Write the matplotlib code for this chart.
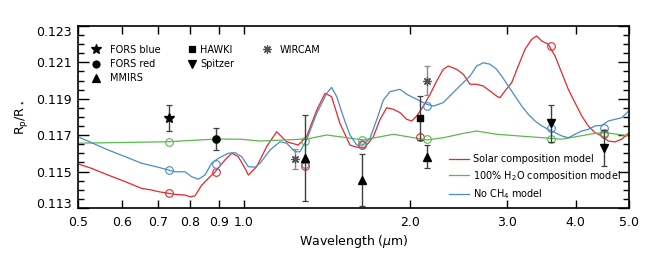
import matplotlib
matplotlib.use('Agg')
import matplotlib.pyplot as plt
from matplotlib.lines import Line2D
from matplotlib.ticker import FixedLocator, MultipleLocator, NullLocator

# Modelos (longitud de onda en micras, Rp/R*)
solar_wl = [0.500, 0.529, 0.567, 0.609, 0.652, 0.680, 0.699, 0.750, 0.782, 0.799,
            0.815, 0.839, 0.862, 0.887, 0.924, 0.951, 0.977, 1.005, 1.019, 1.055,
            1.100, 1.147, 1.196, 1.255, 1.300, 1.356, 1.404, 1.443, 1.494, 1.558,
            1.603, 1.659, 1.718, 1.767, 1.817, 1.868, 1.921, 1.975, 2.017, 2.060,
            2.118, 2.178, 2.239, 2.301, 2.350, 2.434, 2.502, 2.573, 2.646, 2.720,
            2.797, 2.876, 2.916, 2.978, 3.063, 3.148, 3.238, 3.330, 3.400, 3.472,
            3.569, 3.671, 3.774, 3.880, 3.990, 4.104, 4.218, 4.338, 4.462, 4.586,
            4.716, 4.849, 5.000]
solar_rp = [0.11542, 0.11518, 0.11481, 0.11445, 0.11408, 0.11399, 0.11390, 0.11375, 0.11371, 0.11362,
            0.11366, 0.11426, 0.11463, 0.11499, 0.11564, 0.11601, 0.11582, 0.11518, 0.11481, 0.11527,
            0.11637, 0.11719, 0.11664, 0.11646, 0.11692, 0.11838, 0.11930, 0.11912, 0.11765, 0.11646,
            0.11634, 0.11634, 0.11692, 0.11787, 0.11851, 0.11842, 0.11824, 0.11787, 0.11778, 0.11806,
            0.11860, 0.11925, 0.11998, 0.12062, 0.12080, 0.12062, 0.12035, 0.11980, 0.11980, 0.11970,
            0.11943, 0.11915, 0.11906, 0.11943, 0.11989, 0.12080, 0.12172, 0.12227, 0.12245, 0.12218,
            0.12200, 0.12135, 0.12044, 0.11952, 0.11879, 0.11806, 0.11751, 0.11714, 0.11696, 0.11668,
            0.11663, 0.11678, 0.11712]

h2o_wl = [0.500, 0.729, 0.890, 0.984, 1.070, 1.300, 1.414, 1.647, 1.868, 2.147,
          2.301, 2.502, 2.646, 2.876, 3.282, 3.774, 4.338, 4.523, 5.000]
h2o_rp = [0.11656, 0.11664, 0.11679, 0.11678, 0.11668, 0.11679, 0.11701, 0.11674, 0.11705, 0.11674,
          0.11686, 0.11710, 0.11723, 0.11705, 0.11692, 0.11678, 0.11710, 0.11714, 0.11696]

noch4_wl = [0.500, 0.529, 0.567, 0.609, 0.652, 0.699, 0.729, 0.750, 0.782, 0.804,
            0.827, 0.850, 0.874, 0.899, 0.937, 0.964, 0.991, 1.019, 1.048, 1.070,
            1.116, 1.163, 1.196, 1.238, 1.264, 1.300, 1.356, 1.414, 1.443, 1.474,
            1.515, 1.558, 1.603, 1.647, 1.694, 1.742, 1.791, 1.842, 1.894, 1.921,
            1.975, 2.060, 2.147, 2.208, 2.301, 2.399, 2.502, 2.573, 2.646, 2.720,
            2.797, 2.876, 2.937, 3.020, 3.105, 3.194, 3.282, 3.376, 3.472, 3.569,
            3.671, 3.774, 3.880, 3.990, 4.104, 4.218, 4.338, 4.462, 4.586, 4.716,
            4.849, 5.000]
noch4_rp = [0.11692, 0.11659, 0.11619, 0.11582, 0.11546, 0.11524, 0.11509, 0.11499, 0.11499, 0.11472,
            0.11458, 0.11481, 0.11546, 0.11573, 0.11601, 0.11604, 0.11582, 0.11527, 0.11524, 0.11546,
            0.11619, 0.11664, 0.11656, 0.11609, 0.11609, 0.11674, 0.11820, 0.11930, 0.11963, 0.11912,
            0.11802, 0.11701, 0.11646, 0.11646, 0.11683, 0.11784, 0.11893, 0.11939, 0.11948, 0.11952,
            0.11925, 0.11897, 0.11870, 0.11860, 0.11879, 0.11934, 0.11989, 0.12025, 0.12080, 0.12098,
            0.12090, 0.12062, 0.12025, 0.11970, 0.11915, 0.11860, 0.11815, 0.11778, 0.11751, 0.11732,
            0.11714, 0.11696, 0.11686, 0.11705, 0.11723, 0.11732, 0.11751, 0.11754, 0.11778, 0.11787,
            0.11796, 0.11835]

# Modelos promediados en las bandas observadas (círculos abiertos)
solar_bin_wl = [0.73, 0.89, 1.29, 1.64, 2.09, 3.61, 4.51]
solar_bin_rp = [0.11381, 0.11496, 0.11531, 0.11645, 0.11690, 0.12190, 0.11705]
h2o_bin_wl = [0.73, 0.89, 1.29, 1.64, 2.15, 3.61, 4.51]
h2o_bin_rp = [0.11664, 0.11679, 0.11670, 0.11674, 0.11678, 0.11679, 0.11712]
noch4_bin_wl = [0.73, 0.89, 1.29, 1.64, 2.15, 3.61, 4.51]
noch4_bin_rp = [0.11507, 0.11542, 0.11542, 0.11652, 0.11860, 0.11741, 0.11738]

# Observaciones
fors_blue_wl, fors_blue_rp, fors_blue_err = [0.730], [0.11793], [0.00072]
fors_red_wl, fors_red_rp, fors_red_err = [0.890], [0.11679], [0.00062]
mmirs_wl = [1.29, 1.64, 2.15]
mmirs_rp = [0.11576, 0.11454, 0.11582]
mmirs_err = [0.00236, 0.00143, 0.00064]
hawki_wl, hawki_rp, hawki_err = [2.09], [0.11796], [0.00120]
spitzer_wl = [3.61, 4.51]
spitzer_rp = [0.11765, 0.11628]
spitzer_err = [0.00100, 0.00100]
wircam_wl = [1.24, 2.15]
wircam_rp = [0.11568, 0.12000]
wircam_err = [0.00055, 0.00078]

xtick_vals = [0.5, 0.6, 0.7, 0.8, 0.9, 1.0, 2.0, 3.0, 4.0, 5.0]
ytick_vals = [0.113, 0.115, 0.117, 0.119, 0.121, 0.123]

# Colores
red = '#e8262b'
green = '#5cb84f'
blue = '#4a8cc8'


def generate_plot():
    plt.rcParams['font.family'] = ['DejaVu Sans']
    fig = plt.figure(figsize=(6.53, 2.61), dpi=100)
    ax = fig.add_axes([0.1194, 0.2031, 0.8438, 0.6973])

    # Curvas de los modelos
    ax.plot(solar_wl, solar_rp, color=red, lw=0.9, label='Solar composition model')
    ax.plot(h2o_wl, h2o_rp, color=green, lw=0.9, label='100% H$_2$O composition model')
    ax.plot(noch4_wl, noch4_rp, color=blue, lw=0.9, label='No CH$_4$ model')

    for wl, rp, c in [(solar_bin_wl, solar_bin_rp, red), (h2o_bin_wl, h2o_bin_rp, green),
                      (noch4_bin_wl, noch4_bin_rp, blue)]:
        ax.plot(wl, rp, 'o', mfc='none', mec=c, ms=5.5, mew=0.8)

    # Datos con barras de error
    eb = dict(ecolor='#404040', elinewidth=1.0, capsize=2.3, capthick=0.9, ls='none')
    ax.errorbar(fors_blue_wl, fors_blue_rp, yerr=fors_blue_err, fmt='*', color='black', ms=7.5, **eb)
    ax.errorbar(fors_red_wl, fors_red_rp, yerr=fors_red_err, fmt='o', color='black', ms=5, **eb)
    ax.errorbar(mmirs_wl, mmirs_rp, yerr=mmirs_err, fmt='^', color='black', ms=5.5, **eb)
    ax.errorbar(hawki_wl, hawki_rp, yerr=hawki_err, fmt='s', color='black', ms=4.5, **eb)
    ax.errorbar(spitzer_wl, spitzer_rp, yerr=spitzer_err, fmt='v', color='black', ms=5.5, **eb)
    eb['ecolor'] = '#8a8a8a'
    ax.errorbar(wircam_wl, wircam_rp, yerr=wircam_err, fmt='none', **eb)
    ax.plot(wircam_wl, wircam_rp, ls='none', marker=(8, 2, 0), color='#555555', ms=6, mew=0.9)

    # Ejes
    ax.set_xscale('log')
    ax.set_xlim(0.5, 5.0)
    ax.set_ylim(0.113, 0.123)
    ax.set_xticks(xtick_vals)
    ax.set_xticklabels(['%.1f' % v for v in xtick_vals])
    ax.xaxis.set_minor_locator(NullLocator())
    ax.yaxis.set_major_locator(FixedLocator(ytick_vals))
    ax.yaxis.set_minor_locator(MultipleLocator(0.0005))
    ax.set_yticklabels(['%.3f' % v for v in ytick_vals])
    ax.tick_params(which='both', direction='in', top=True, right=True, labelsize=9, width=1.0)
    ax.tick_params(axis='y', which='major', length=8, pad=4.5)
    ax.tick_params(axis='y', which='minor', length=4)
    ax.tick_params(axis='x', which='major', length=6, pad=6)
    for sp in ax.spines.values():
        sp.set_linewidth(1.2)
    ylabels = ax.get_yticklabels()
    ylabels[0].set_verticalalignment('baseline')
    ylabels[-1].set_verticalalignment('top')

    ax.set_xlabel(r'Wavelength ($\mu$m)', fontsize=9, labelpad=3)
    ax.set_ylabel(r'R$_{\rm p}$/R$_\star$', fontsize=9, labelpad=4)

    # Leyenda de instrumentos (tres columnas)
    def mk(marker, ms, color='black', mew=0.9):
        return Line2D([], [], ls='none', marker=marker, color=color, ms=ms, mew=mew)

    cols = [
        ([mk('*', 7.5), mk('o', 5), mk('^', 5.5)], ['FORS blue', 'FORS red', 'MMIRS'], 0.0236, 0.96),
        ([mk('s', 4.5), mk('v', 5.5)], ['HAWKI', 'Spitzer'], 0.1975, 0.39),
        ([mk((8, 2, 0), 6, '#555555')], ['WIRCAM'], 0.3336, 0.88),
    ]
    for handles, labels, x0, pad in cols:
        leg = ax.legend(handles, labels, loc='upper left', bbox_to_anchor=(x0, 0.898),
                        frameon=False, fontsize=7, handlelength=1.0, handletextpad=pad,
                        borderpad=0, borderaxespad=0, labelspacing=0.45)
        ax.add_artist(leg)

    # Leyenda de modelos
    ax.legend(loc='upper left', bbox_to_anchor=(0.674, 0.294), frameon=False, fontsize=7,
              handlelength=2.0, handletextpad=0.45, borderpad=0, borderaxespad=0,
              labelspacing=0.45)

    fig.savefig('out.png', dpi=100)
    plt.close(fig)


if __name__ == "__main__":
    generate_plot()
